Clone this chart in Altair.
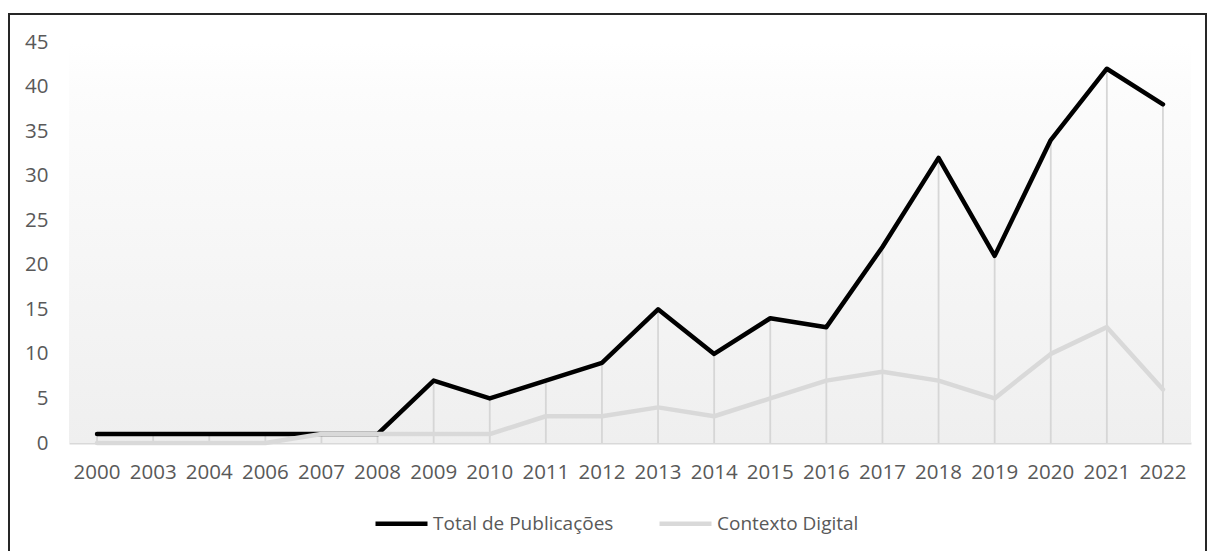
import altair as alt
import pandas as pd

years = ["2000", "2003", "2004", "2006", "2007", "2008", "2009", "2010", "2011", "2012",
         "2013", "2014", "2015", "2016", "2017", "2018", "2019", "2020", "2021", "2022"]
total = [1, 1, 1, 1, 1, 1, 7, 5, 7, 9, 15, 10, 14, 13, 22, 32, 21, 34, 42, 38]
digital = [0, 0, 0, 0, 1, 1, 1, 1, 3, 3, 4, 3, 5, 7, 8, 7, 5, 10, 13, 6]
series_names = ["Total de Publicações", "Contexto Digital"]
series_colors = ["#000000", "#d9d9d9"]
y_ticks = [0, 5, 10, 15, 20, 25, 30, 35, 40, 45]

W, H = 1122, 401
FONT = "Open Sans"
LABEL_COLOR = "#595959"

df_total = pd.DataFrame({"ano": years, "valor": total, "serie": series_names[0]})
df_dig = pd.DataFrame({"ano": years, "valor": digital, "serie": series_names[1]})
df_drop = pd.DataFrame({"ano": years, "top": [max(a, b) for a, b in zip(total, digital)], "zero": 0})
df_one = pd.DataFrame({"k": [0]})

x_enc = alt.X("ano:N", sort=years,
              scale=alt.Scale(paddingInner=0, paddingOuter=0),
              axis=alt.Axis(title=None, labelAngle=0, ticks=False, grid=False,
                            domainColor="#d9d9d9", domainWidth=2,
                            labelFont=FONT, labelFontSize=20.5, labelColor=LABEL_COLOR,
                            labelPadding=19))
y_scale = alt.Scale(domain=[0, 45], nice=False, zero=True)
y_axis = alt.Axis(title=None, values=y_ticks, domain=False, ticks=False, grid=False,
                  labelFont=FONT, labelFontSize=20.5, labelColor=LABEL_COLOR,
                  labelPadding=21)

color = alt.Color("serie:N",
                  scale=alt.Scale(domain=series_names, range=series_colors),
                  legend=alt.Legend(title=None, orient="none", direction="horizontal",
                                    columns=2, legendX=304, legendY=453,
                                    symbolType="stroke", symbolSize=2704,
                                    symbolStrokeWidth=4.5, labelFont=FONT,
                                    labelFontSize=19, labelColor=LABEL_COLOR,
                                    labelLimit=400,
                                    labelOffset=3, columnPadding=36, padding=0))

background = alt.Chart(df_one).mark_rect(
    color=alt.LinearGradient(
        gradient="linear",
        stops=[alt.GradientStop(color="#ffffff", offset=0),
               alt.GradientStop(color="#fcfcfc", offset=0.12),
               alt.GradientStop(color="#efefef", offset=1)],
        x1=0, x2=0, y1=0, y2=1)
).encode(x=alt.value(0), x2=alt.value(W), y=alt.value(0), y2=alt.value(H))

border = alt.Chart(df_one).mark_rect(filled=False, stroke="#262626", strokeWidth=2).encode(
    x=alt.value(-60), x2=alt.value(1137), y=alt.value(-28), y2=alt.value(530))

drops = alt.Chart(df_drop).mark_rule(color="#d6d6d6", strokeWidth=1.8).encode(
    x=x_enc, y=alt.Y("top:Q", scale=y_scale, axis=y_axis), y2="zero:Q")

line_total = alt.Chart(df_total).mark_line(strokeWidth=4.5, strokeCap="round", strokeJoin="round").encode(
    x=x_enc, y=alt.Y("valor:Q", scale=y_scale, axis=y_axis), color=color)

line_dig = alt.Chart(df_dig).mark_line(strokeWidth=4.5, strokeCap="round", strokeJoin="round").encode(
    x=x_enc, y=alt.Y("valor:Q", scale=y_scale, axis=y_axis), color=color)

chart = alt.layer(background, border, drops, line_total, line_dig).properties(
    width=W, height=H,
    autosize=alt.AutoSizeParams(type="none"),
    padding={"left": 69, "top": 42, "right": 17, "bottom": 108},
    background="#ffffff",
).configure_view(stroke=None)

chart.save("out.html", embed_options={"renderer": "svg", "actions": False})
